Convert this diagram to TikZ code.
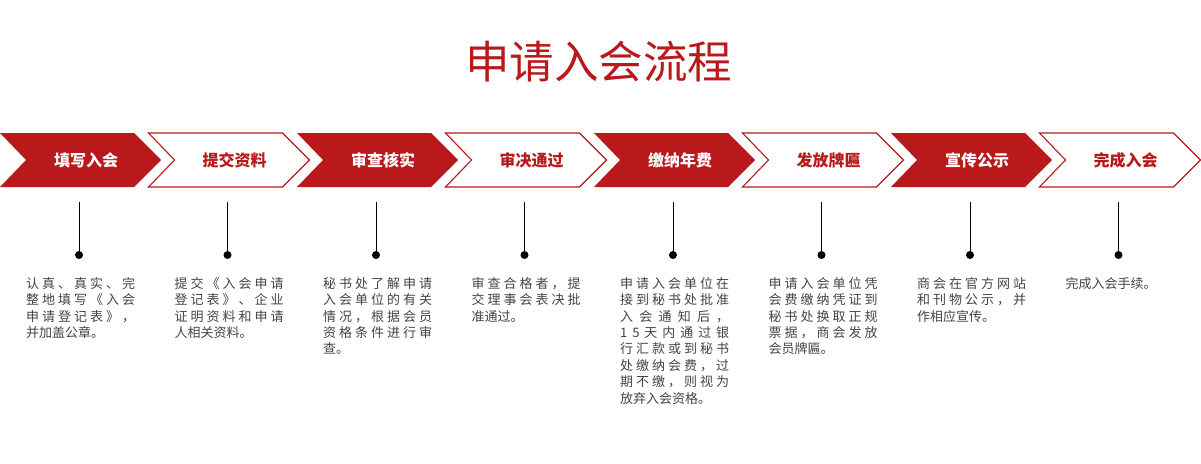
\documentclass[tikz,border=0pt]{standalone}
\usepackage{fontspec}
\newfontfamily\cjk{Noto Sans CJK SC}
\definecolor{cred}{RGB}{185,25,26}
\definecolor{ctext}{RGB}{68,68,68}
\makeatletter
\newcommand\spr[1]{\hbox to 109pt{\rule{0pt}{12pt}\@tfor\@c:=#1\do{\@c\hfil}\unskip}}
\makeatother
\newcommand\nat[1]{\hbox{\rule{0pt}{12pt}#1}}
\newcommand\blk[1]{\vbox{\baselineskip=16.4pt\lineskiplimit=-20pt #1}}
\tikzset{
  chevfill/.style={fill=cred, draw=none},
  chevline/.style={draw=cred, line width=1.1pt, fill=white},
  lblbase/.style={font=\cjk\bfseries\fontsize{16}{16}\selectfont, anchor=base, inner sep=0pt},
  lblw/.style={lblbase, text=white},
  lblr/.style={lblbase, text=cred},
  stem/.style={draw=black, line width=1pt},
  dotn/.style={circle, fill=black, draw=none, inner sep=0pt, minimum size=8pt},
  desc/.style={anchor=north west, inner sep=0pt, text=ctext, font=\cjk\fontsize{13}{16.4}\selectfont},
  titlen/.style={font=\cjk\fontsize{44.5}{44.5}\selectfont, text=cred, anchor=base, inner sep=0pt}
}
\begin{document}
\begin{tikzpicture}[x=1pt,y=-1pt]
\useasboundingbox (0,0) rectangle (1201,463);
\fill[white] (0,0) rectangle (1201,463);
\node[titlen] (title) at (598.5,78.7) {申请入会流程};
% chevrons
\foreach \k/\sty in {0/chevfill,1/chevline,2/chevfill,3/chevline,4/chevfill,5/chevline,6/chevfill,7/chevline}{
  \pgfmathsetmacro{\xo}{148.5*\k}
  \path[\sty] (\xo,133) -- ({\xo+134},133) -- ({\xo+161},160) -- ({\xo+134},187) -- (\xo,187) -- ({\xo+26},160) -- cycle;
}
% labels
\node[lblw] (l1) at (86,166) {填写入会};
\node[lblr] (l2) at (234.5,166) {提交资料};
\node[lblw] (l3) at (383,166) {审查核实};
\node[lblr] (l4) at (531.5,166) {审决通过};
\node[lblw] (l5) at (680,166) {缴纳年费};
\node[lblr] (l6) at (828.5,166) {发放牌匾};
\node[lblw] (l7) at (977,166) {宣传公示};
\node[lblr] (l8) at (1125.5,166) {完成入会};
% stems and dots
\foreach \k in {0,...,7}{
  \pgfmathsetmacro{\xs}{148.5*\k+79}
  \coordinate (t\k) at (\xs,202);
  \node[dotn] (d\k) at (\xs,255) {};
  \draw[stem] (t\k) -- (d\k.center);
}
% descriptions
\node[desc] (b1) at (26,276) {\blk{\spr{认真、真实、完}\spr{整地填写《入会}\spr{申请登记表》，}\nat{并加盖公章。}}};
\node[desc] (b2) at (174.5,276) {\blk{\spr{提交《入会申请}\spr{登记表》、企业}\spr{证明资料和申请}\nat{人相关资料。}}};
\node[desc] (b3) at (323,276) {\blk{\spr{秘书处了解申请}\spr{入会单位的有关}\spr{情况，根据会员}\spr{资格条件进行审}\nat{查。}}};
\node[desc] (b4) at (471.5,276) {\blk{\spr{审查合格者，提}\spr{交理事会表决批}\nat{准通过。}}};
\node[desc] (b5) at (620,276) {\blk{\spr{申请入会单位在}\spr{接到秘书处批准}\spr{入会通知后，}\spr{15天内通过银}\spr{行汇款或到秘书}\spr{处缴纳会费，过}\spr{期不缴，则视为}\nat{放弃入会资格。}}};
\node[desc] (b6) at (768.5,276) {\blk{\spr{申请入会单位凭}\spr{会费缴纳凭证到}\spr{秘书处换取正规}\spr{票据，商会发放}\nat{会员牌匾。}}};
\node[desc] (b7) at (917,276) {\blk{\spr{商会在官方网站}\spr{和刊物公示，并}\nat{作相应宣传。}}};
\node[desc] (b8) at (1065.5,276) {\blk{\nat{完成入会手续。}}};
\end{tikzpicture}
\end{document}
